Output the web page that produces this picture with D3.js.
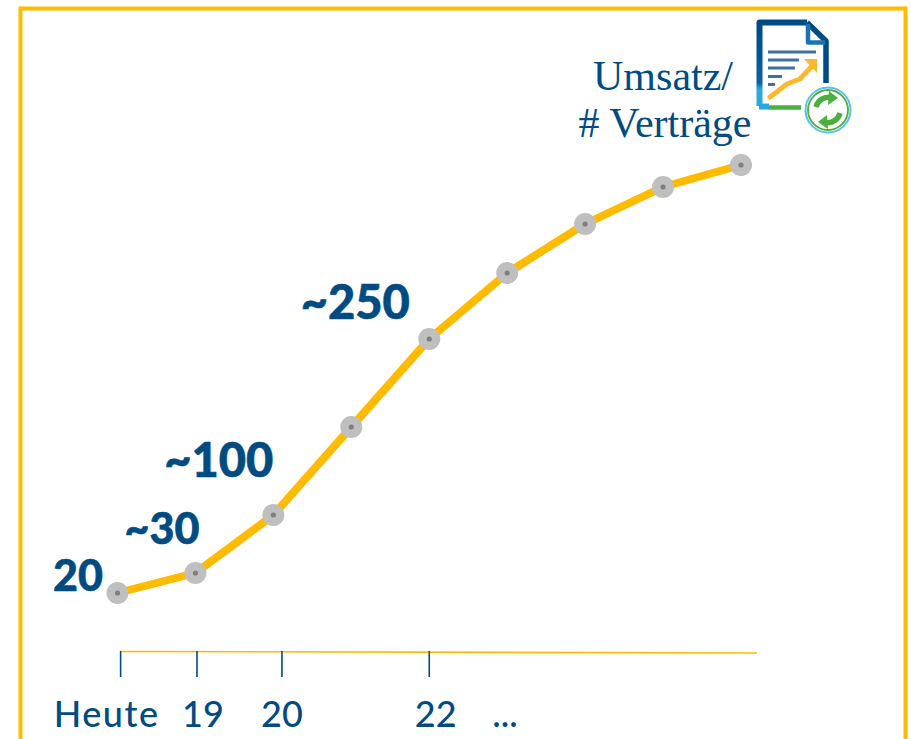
<!DOCTYPE html>
<html>
<head>
<meta charset="utf-8">
<script src="https://cdnjs.cloudflare.com/ajax/libs/d3/7.8.5/d3.min.js"></script>
<style>
  html, body { margin: 0; padding: 0; background: #fff; overflow: hidden; }
  svg { display: block; }
  text { font-family: Lato, "Noto Sans", sans-serif; fill: #004b82; }
</style>
</head>
<body>
<svg id="chart" width="911" height="739"></svg>
<script>
// step index along the x axis, one per point on the line
const steps = [0, 1, 2, 3, 4, 5, 6, 7, 8];
// height of the line (no printed scale on the y axis)
const levels = [59, 79, 137, 225, 313, 379, 428, 465, 487];

const tickSteps = [0.04, 1.02, 2.11, 4];
const tickLabels = ["Heute", "19", "20", "22", "..."];
const valueLabels = ["20", "~30", "~100", "~250"];
const valueSteps = [0, 1, 2, 4];

const YELLOW = "#febb00";
const BLUE = "#004b82";

const svg = d3.select("#chart");

const x = d3.scaleLinear().domain([0, 8]).range([117.5, 741]);
const y = d3.scaleLinear().domain([0, 500]).range([652, 152]);

// Rahmen, unten vom Bild abgeschnitten
svg.append("path")
  .attr("d", "M20.5,745V8.5H905.5V745")
  .attr("fill", "none").attr("stroke", YELLOW).attr("stroke-width", 4);

// x axis: thin yellow line, drifts down by a pixel or so
svg.append("line")
  .attr("x1", 120).attr("x2", 757)
  .attr("y1", 651.5).attr("y2", 653)
  .attr("stroke", YELLOW).attr("stroke-width", 1.6);

svg.selectAll(".tick-mark").data(tickSteps).join("line")
  .attr("class", "tick-mark")
  .attr("x1", (d) => x(d)).attr("x2", (d) => x(d))
  .attr("y1", 651).attr("y2", 677)
  .attr("stroke", BLUE).attr("stroke-width", 1.6);

// labels do not sit exactly under their ticks in the original
const tickLabelDx = [-14, 6, 0, 6.5];
svg.selectAll(".tick-label").data(tickLabels).join("text")
  .attr("class", "tick-label")
  .attr("x", (d, i) => (i < 4 ? x(tickSteps[i]) + tickLabelDx[i] : 505))
  .attr("y", 727)
  .attr("text-anchor", "middle")
  .style("font-size", "36px")
  .style("letter-spacing", (d, i) => (i === 0 ? "1.5px" : null))
  .style("font-weight", 500)
  .text((d) => d);

// Linie
const line = d3.line().x((d, i) => x(steps[i])).y((d) => y(d));
svg.append("path").datum(levels)
  .attr("d", line)
  .attr("fill", "none").attr("stroke", YELLOW).attr("stroke-width", 8)
  .attr("stroke-linejoin", "round");

svg.selectAll(".dot").data(levels).join("circle")
  .attr("class", "dot")
  .attr("cx", (d, i) => x(steps[i])).attr("cy", (d) => y(d))
  .attr("r", 11).attr("fill", "#bfbfbf");
svg.selectAll(".dot-in").data(levels).join("circle")
  .attr("class", "dot-in")
  .attr("cx", (d, i) => x(steps[i])).attr("cy", (d) => y(d))
  .attr("r", 2.6).attr("fill", "#7f7f7f");

// Werte an der Kurve
const valueDx = [-14.5, 4, 0, -19.5];
const valueDy = [-2, -29, -38, -20];
const valueSize = [43, 43, 47, 47];
svg.selectAll(".value").data(valueLabels).join("text")
  .attr("class", "value")
  .attr("x", (d, i) => x(valueSteps[i]) + valueDx[i])
  .attr("y", (d, i) => y(levels[valueSteps[i]]) + valueDy[i])
  .attr("text-anchor", "end")
  .style("font-size", (d, i) => `${valueSize[i]}px`).style("font-weight", 900)
  .style("stroke", BLUE).style("stroke-width", 0.6)
  .text((d) => d);

// Titel oben rechts
svg.selectAll(".title").data(["Umsatz/", "# Verträge"]).join("text")
  .attr("class", "title")
  .attr("x", (d, i) => (i === 0 ? 733 : 751.5))
  .attr("y", (d, i) => 90 + i * 47)
  .attr("text-anchor", "end")
  .style("font-family", "'Liberation Serif', serif")
  .style("font-size", "42px")
  .text((d) => d);

// Vertrags-Icon, im Original leicht unscharf
const defs = svg.append("defs");
defs.append("filter").attr("id", "soft")
  .append("feGaussianBlur").attr("stdDeviation", 0.6);
const grad = defs.append("linearGradient").attr("id", "docLeft")
  .attr("gradientUnits", "userSpaceOnUse")
  .attr("x1", 0).attr("y1", 20).attr("x2", 0).attr("y2", 109);
grad.append("stop").attr("offset", 0).attr("stop-color", "#004b82");
grad.append("stop").attr("offset", 0.7).attr("stop-color", "#0a5fa8");
grad.append("stop").attr("offset", 0.78).attr("stop-color", "#29a9e1");
grad.append("stop").attr("offset", 1).attr("stop-color", "#29a9e1");

const icon = svg.append("g").attr("fill", "none").attr("stroke-linejoin", "round")
  .attr("filter", "url(#soft)");
icon.append("path").attr("d", "M759.5,106V22.5H807")
  .attr("stroke", "url(#docLeft)").attr("stroke-width", 6);
icon.append("path").attr("d", "M807,22.5L826,41V83")
  .attr("stroke", "#004b82").attr("stroke-width", 5.5);
icon.append("path").attr("d", "M808,24V42.5H825")
  .attr("stroke", "#1a72b8").attr("stroke-width", 4.5);
icon.append("path").attr("d", "M759,106.5H769").attr("stroke", "#29a9e1").attr("stroke-width", 6);
icon.append("path").attr("d", "M769,107.5H801").attr("stroke", "#4cae3f").attr("stroke-width", 4.5);

const docLines = [[768, 816, 52], [768, 799, 60], [768, 795, 68], [768, 782, 76.5], [768, 775, 84.5]];
icon.selectAll(".doc-line").data(docLines).join("line")
  .attr("class", "doc-line")
  .attr("x1", (d) => d[0]).attr("x2", (d) => d[1])
  .attr("y1", (d) => d[2]).attr("y2", (d) => d[2])
  .attr("stroke", "#3f6f9f").attr("stroke-width", 3);

icon.append("path").attr("d", "M770,97L787,84L800,79L813,65")
  .attr("stroke", "#fdb92e").attr("stroke-width", 5).attr("stroke-linecap", "round");
icon.append("path").attr("d", "M804,59H817V73Z").attr("fill", "#fdb92e");

icon.append("circle").attr("cx", 828).attr("cy", 110).attr("r", 22.5).attr("fill", "#fff")
  .attr("stroke", "#5cc0ea").attr("stroke-width", 2);
icon.append("circle").attr("cx", 828).attr("cy", 110).attr("r", 20)
  .attr("stroke", "#4cae3f").attr("stroke-width", 1.8);
icon.append("path").attr("d", "M816,107A13,13 0 0 1 833,98")
  .attr("stroke", "#4cae3f").attr("stroke-width", 5.5);
icon.append("path").attr("d", "M829,91L838,98L828,105Z").attr("fill", "#4cae3f");
icon.append("path").attr("d", "M840,113A13,13 0 0 1 823,122")
  .attr("stroke", "#4cae3f").attr("stroke-width", 5.5);
icon.append("path").attr("d", "M827,115L818,122L828,129Z").attr("fill", "#4cae3f");
</script>
</body>
</html>
